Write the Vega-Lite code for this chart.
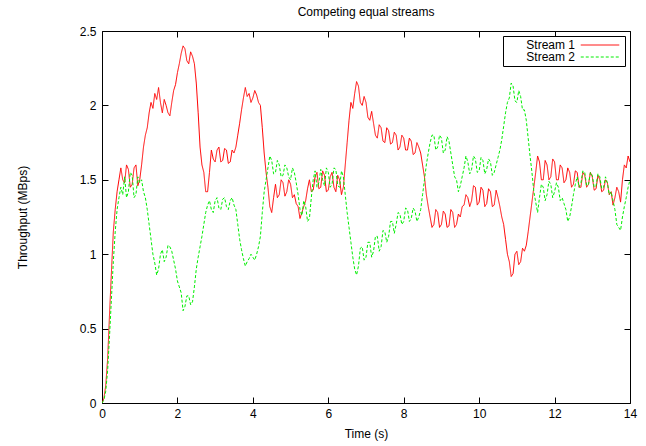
{
  "$schema": "https://vega.github.io/schema/vega-lite/v6.json",
  "width": 528,
  "height": 372,
  "autosize": {"type": "none"},
  "padding": {"left": 102, "top": 31, "right": 16, "bottom": 43},
  "background": "white",
  "config": {
    "font": "Liberation Sans",
    "view": {"stroke": "black", "strokeWidth": 1},
    "axis": {"grid": false, "domain": false, "labelFont": "Liberation Sans", "titleFont": "Liberation Sans", "labelFontSize": 12, "titleFontSize": 12, "titleFontWeight": "normal", "labelColor": "#000", "titleColor": "#000", "tickColor": "#000", "tickSize": -6}
  },
  "title": {"text": "Competing equal streams", "fontSize": 12, "fontWeight": "normal", "font": "Liberation Sans", "color": "#000", "offset": 6},
  "data": {"values": [
{"t":0,"Stream 1":0,"Stream 2":0},{"t":0.05,"Stream 1":0.03,"Stream 2":0.02},{"t":0.1,"Stream 1":0.12,"Stream 2":0.08},{"t":0.15,"Stream 1":0.3,"Stream 2":0.22},
{"t":0.2,"Stream 1":0.6,"Stream 2":0.45},{"t":0.25,"Stream 1":0.88,"Stream 2":0.7},{"t":0.3,"Stream 1":1.15,"Stream 2":0.95},{"t":0.35,"Stream 1":1.3,"Stream 2":1.15},
{"t":0.4,"Stream 1":1.42,"Stream 2":1.3},{"t":0.45,"Stream 1":1.5,"Stream 2":1.38},{"t":0.5,"Stream 1":1.58,"Stream 2":1.45},{"t":0.55,"Stream 1":1.5,"Stream 2":1.4},
{"t":0.6,"Stream 1":1.48,"Stream 2":1.52},{"t":0.65,"Stream 1":1.6,"Stream 2":1.38},{"t":0.7,"Stream 1":1.57,"Stream 2":1.42},{"t":0.75,"Stream 1":1.45,"Stream 2":1.55},
{"t":0.8,"Stream 1":1.47,"Stream 2":1.53},{"t":0.85,"Stream 1":1.58,"Stream 2":1.38},{"t":0.9,"Stream 1":1.6,"Stream 2":1.4},{"t":0.95,"Stream 1":1.46,"Stream 2":1.52},
{"t":1.0,"Stream 1":1.5,"Stream 2":1.48},{"t":1.05,"Stream 1":1.6,"Stream 2":1.5},{"t":1.1,"Stream 1":1.72,"Stream 2":1.42},{"t":1.15,"Stream 1":1.8,"Stream 2":1.38},
{"t":1.2,"Stream 1":1.85,"Stream 2":1.3},{"t":1.25,"Stream 1":1.95,"Stream 2":1.2},{"t":1.3,"Stream 1":2.02,"Stream 2":1.1},{"t":1.35,"Stream 1":1.98,"Stream 2":1.0},
{"t":1.4,"Stream 1":2.08,"Stream 2":0.94},{"t":1.45,"Stream 1":2.04,"Stream 2":0.86},{"t":1.5,"Stream 1":2.12,"Stream 2":0.9},{"t":1.55,"Stream 1":2.02,"Stream 2":1.0},
{"t":1.6,"Stream 1":1.95,"Stream 2":1.03},{"t":1.65,"Stream 1":2.04,"Stream 2":0.95},{"t":1.7,"Stream 1":2.0,"Stream 2":0.98},{"t":1.75,"Stream 1":1.95,"Stream 2":1.06},
{"t":1.8,"Stream 1":1.93,"Stream 2":1.05},{"t":1.85,"Stream 1":2.02,"Stream 2":1.02},{"t":1.9,"Stream 1":2.1,"Stream 2":0.96},{"t":1.95,"Stream 1":2.14,"Stream 2":0.9},
{"t":2.0,"Stream 1":2.22,"Stream 2":0.82},{"t":2.05,"Stream 1":2.28,"Stream 2":0.78},{"t":2.1,"Stream 1":2.35,"Stream 2":0.74},{"t":2.15,"Stream 1":2.4,"Stream 2":0.62},
{"t":2.2,"Stream 1":2.38,"Stream 2":0.65},{"t":2.25,"Stream 1":2.3,"Stream 2":0.72},{"t":2.3,"Stream 1":2.28,"Stream 2":0.72},{"t":2.35,"Stream 1":2.36,"Stream 2":0.66},
{"t":2.4,"Stream 1":2.33,"Stream 2":0.68},{"t":2.45,"Stream 1":2.28,"Stream 2":0.78},{"t":2.5,"Stream 1":2.15,"Stream 2":0.9},{"t":2.55,"Stream 1":1.95,"Stream 2":0.98},
{"t":2.6,"Stream 1":1.72,"Stream 2":1.05},{"t":2.65,"Stream 1":1.6,"Stream 2":1.12},{"t":2.7,"Stream 1":1.55,"Stream 2":1.2},{"t":2.75,"Stream 1":1.42,"Stream 2":1.28},
{"t":2.8,"Stream 1":1.42,"Stream 2":1.33},{"t":2.85,"Stream 1":1.55,"Stream 2":1.36},{"t":2.9,"Stream 1":1.7,"Stream 2":1.3},{"t":2.95,"Stream 1":1.64,"Stream 2":1.28},
{"t":3.0,"Stream 1":1.62,"Stream 2":1.36},{"t":3.05,"Stream 1":1.7,"Stream 2":1.38},{"t":3.1,"Stream 1":1.72,"Stream 2":1.31},{"t":3.15,"Stream 1":1.62,"Stream 2":1.3},
{"t":3.2,"Stream 1":1.63,"Stream 2":1.37},{"t":3.25,"Stream 1":1.71,"Stream 2":1.38},{"t":3.3,"Stream 1":1.7,"Stream 2":1.32},{"t":3.35,"Stream 1":1.61,"Stream 2":1.3},
{"t":3.4,"Stream 1":1.62,"Stream 2":1.36},{"t":3.45,"Stream 1":1.7,"Stream 2":1.38},{"t":3.5,"Stream 1":1.68,"Stream 2":1.33},{"t":3.55,"Stream 1":1.72,"Stream 2":1.3},
{"t":3.6,"Stream 1":1.8,"Stream 2":1.2},{"t":3.65,"Stream 1":1.88,"Stream 2":1.1},{"t":3.7,"Stream 1":1.97,"Stream 2":1.03},{"t":3.75,"Stream 1":2.05,"Stream 2":0.97},
{"t":3.8,"Stream 1":2.12,"Stream 2":0.92},{"t":3.85,"Stream 1":2.06,"Stream 2":0.95},{"t":3.9,"Stream 1":2.08,"Stream 2":0.97},{"t":3.95,"Stream 1":2.02,"Stream 2":1.0},
{"t":4.0,"Stream 1":2.05,"Stream 2":0.98},{"t":4.05,"Stream 1":2.1,"Stream 2":0.96},{"t":4.1,"Stream 1":2.07,"Stream 2":1.0},{"t":4.15,"Stream 1":2.02,"Stream 2":1.05},
{"t":4.2,"Stream 1":2.0,"Stream 2":1.12},{"t":4.25,"Stream 1":1.85,"Stream 2":1.28},{"t":4.3,"Stream 1":1.68,"Stream 2":1.42},{"t":4.35,"Stream 1":1.55,"Stream 2":1.5},
{"t":4.4,"Stream 1":1.45,"Stream 2":1.58},{"t":4.45,"Stream 1":1.32,"Stream 2":1.66},{"t":4.5,"Stream 1":1.28,"Stream 2":1.63},{"t":4.55,"Stream 1":1.38,"Stream 2":1.54},
{"t":4.6,"Stream 1":1.47,"Stream 2":1.55},{"t":4.65,"Stream 1":1.38,"Stream 2":1.63},{"t":4.7,"Stream 1":1.4,"Stream 2":1.6},{"t":4.75,"Stream 1":1.5,"Stream 2":1.52},
{"t":4.8,"Stream 1":1.48,"Stream 2":1.53},{"t":4.85,"Stream 1":1.39,"Stream 2":1.6},{"t":4.9,"Stream 1":1.42,"Stream 2":1.58},{"t":4.95,"Stream 1":1.5,"Stream 2":1.52},
{"t":5.0,"Stream 1":1.47,"Stream 2":1.5},{"t":5.05,"Stream 1":1.38,"Stream 2":1.58},{"t":5.1,"Stream 1":1.4,"Stream 2":1.55},{"t":5.15,"Stream 1":1.34,"Stream 2":1.48},
{"t":5.2,"Stream 1":1.32,"Stream 2":1.4},{"t":5.25,"Stream 1":1.24,"Stream 2":1.3},{"t":5.3,"Stream 1":1.28,"Stream 2":1.26},{"t":5.35,"Stream 1":1.32,"Stream 2":1.36},
{"t":5.4,"Stream 1":1.36,"Stream 2":1.32},{"t":5.45,"Stream 1":1.44,"Stream 2":1.22},{"t":5.5,"Stream 1":1.5,"Stream 2":1.24},{"t":5.55,"Stream 1":1.42,"Stream 2":1.38},
{"t":5.6,"Stream 1":1.43,"Stream 2":1.5},{"t":5.65,"Stream 1":1.52,"Stream 2":1.56},{"t":5.7,"Stream 1":1.55,"Stream 2":1.45},{"t":5.75,"Stream 1":1.44,"Stream 2":1.48},
{"t":5.8,"Stream 1":1.45,"Stream 2":1.57},{"t":5.85,"Stream 1":1.56,"Stream 2":1.5},{"t":5.9,"Stream 1":1.53,"Stream 2":1.46},{"t":5.95,"Stream 1":1.42,"Stream 2":1.58},
{"t":6.0,"Stream 1":1.43,"Stream 2":1.55},{"t":6.05,"Stream 1":1.52,"Stream 2":1.45},{"t":6.1,"Stream 1":1.55,"Stream 2":1.47},{"t":6.15,"Stream 1":1.45,"Stream 2":1.58},
{"t":6.2,"Stream 1":1.42,"Stream 2":1.57},{"t":6.25,"Stream 1":1.53,"Stream 2":1.46},{"t":6.3,"Stream 1":1.5,"Stream 2":1.45},{"t":6.35,"Stream 1":1.4,"Stream 2":1.56},
{"t":6.4,"Stream 1":1.45,"Stream 2":1.52},{"t":6.45,"Stream 1":1.6,"Stream 2":1.4},{"t":6.5,"Stream 1":1.75,"Stream 2":1.28},{"t":6.55,"Stream 1":1.9,"Stream 2":1.18},
{"t":6.6,"Stream 1":2.02,"Stream 2":1.08},{"t":6.65,"Stream 1":1.98,"Stream 2":0.98},{"t":6.7,"Stream 1":2.08,"Stream 2":0.9},{"t":6.75,"Stream 1":2.16,"Stream 2":0.86},
{"t":6.8,"Stream 1":2.13,"Stream 2":0.92},{"t":6.85,"Stream 1":2.02,"Stream 2":1.04},{"t":6.9,"Stream 1":2.0,"Stream 2":1.05},{"t":6.95,"Stream 1":2.06,"Stream 2":0.96},
{"t":7.0,"Stream 1":2.02,"Stream 2":0.98},{"t":7.05,"Stream 1":1.92,"Stream 2":1.08},{"t":7.1,"Stream 1":1.9,"Stream 2":1.08},{"t":7.15,"Stream 1":1.96,"Stream 2":0.98},
{"t":7.2,"Stream 1":1.88,"Stream 2":1.02},{"t":7.25,"Stream 1":1.8,"Stream 2":1.12},{"t":7.3,"Stream 1":1.78,"Stream 2":1.12},{"t":7.35,"Stream 1":1.87,"Stream 2":1.02},
{"t":7.4,"Stream 1":1.85,"Stream 2":1.05},{"t":7.45,"Stream 1":1.76,"Stream 2":1.16},{"t":7.5,"Stream 1":1.75,"Stream 2":1.15},{"t":7.55,"Stream 1":1.85,"Stream 2":1.08},
{"t":7.6,"Stream 1":1.83,"Stream 2":1.12},{"t":7.65,"Stream 1":1.74,"Stream 2":1.22},{"t":7.7,"Stream 1":1.75,"Stream 2":1.22},{"t":7.75,"Stream 1":1.82,"Stream 2":1.14},
{"t":7.8,"Stream 1":1.8,"Stream 2":1.2},{"t":7.85,"Stream 1":1.7,"Stream 2":1.28},{"t":7.9,"Stream 1":1.72,"Stream 2":1.27},{"t":7.95,"Stream 1":1.8,"Stream 2":1.2},
{"t":8.0,"Stream 1":1.78,"Stream 2":1.22},{"t":8.05,"Stream 1":1.7,"Stream 2":1.31},{"t":8.1,"Stream 1":1.7,"Stream 2":1.3},{"t":8.15,"Stream 1":1.78,"Stream 2":1.22},
{"t":8.2,"Stream 1":1.76,"Stream 2":1.24},{"t":8.25,"Stream 1":1.67,"Stream 2":1.31},{"t":8.3,"Stream 1":1.68,"Stream 2":1.29},{"t":8.35,"Stream 1":1.75,"Stream 2":1.22},
{"t":8.4,"Stream 1":1.72,"Stream 2":1.25},{"t":8.45,"Stream 1":1.68,"Stream 2":1.3},{"t":8.5,"Stream 1":1.6,"Stream 2":1.4},{"t":8.55,"Stream 1":1.52,"Stream 2":1.5},
{"t":8.6,"Stream 1":1.4,"Stream 2":1.6},{"t":8.65,"Stream 1":1.32,"Stream 2":1.68},{"t":8.7,"Stream 1":1.25,"Stream 2":1.75},{"t":8.75,"Stream 1":1.18,"Stream 2":1.8},
{"t":8.8,"Stream 1":1.2,"Stream 2":1.8},{"t":8.85,"Stream 1":1.3,"Stream 2":1.7},{"t":8.9,"Stream 1":1.28,"Stream 2":1.72},{"t":8.95,"Stream 1":1.18,"Stream 2":1.8},
{"t":9.0,"Stream 1":1.2,"Stream 2":1.78},{"t":9.05,"Stream 1":1.29,"Stream 2":1.68},{"t":9.1,"Stream 1":1.27,"Stream 2":1.7},{"t":9.15,"Stream 1":1.18,"Stream 2":1.79},
{"t":9.2,"Stream 1":1.19,"Stream 2":1.76},{"t":9.25,"Stream 1":1.3,"Stream 2":1.68},{"t":9.3,"Stream 1":1.28,"Stream 2":1.6},{"t":9.35,"Stream 1":1.18,"Stream 2":1.52},
{"t":9.4,"Stream 1":1.2,"Stream 2":1.5},{"t":9.45,"Stream 1":1.27,"Stream 2":1.42},{"t":9.5,"Stream 1":1.25,"Stream 2":1.46},{"t":9.55,"Stream 1":1.32,"Stream 2":1.52},
{"t":9.6,"Stream 1":1.33,"Stream 2":1.58},{"t":9.65,"Stream 1":1.4,"Stream 2":1.66},{"t":9.7,"Stream 1":1.38,"Stream 2":1.62},{"t":9.75,"Stream 1":1.32,"Stream 2":1.54},
{"t":9.8,"Stream 1":1.36,"Stream 2":1.57},{"t":9.85,"Stream 1":1.46,"Stream 2":1.66},{"t":9.9,"Stream 1":1.45,"Stream 2":1.64},{"t":9.95,"Stream 1":1.33,"Stream 2":1.55},
{"t":10.0,"Stream 1":1.35,"Stream 2":1.56},{"t":10.05,"Stream 1":1.45,"Stream 2":1.65},{"t":10.1,"Stream 1":1.43,"Stream 2":1.63},{"t":10.15,"Stream 1":1.32,"Stream 2":1.54},
{"t":10.2,"Stream 1":1.34,"Stream 2":1.57},{"t":10.25,"Stream 1":1.44,"Stream 2":1.64},{"t":10.3,"Stream 1":1.42,"Stream 2":1.62},{"t":10.35,"Stream 1":1.32,"Stream 2":1.53},
{"t":10.4,"Stream 1":1.33,"Stream 2":1.55},{"t":10.45,"Stream 1":1.43,"Stream 2":1.6},{"t":10.5,"Stream 1":1.38,"Stream 2":1.65},{"t":10.55,"Stream 1":1.32,"Stream 2":1.7},
{"t":10.6,"Stream 1":1.25,"Stream 2":1.77},{"t":10.65,"Stream 1":1.2,"Stream 2":1.86},{"t":10.7,"Stream 1":1.1,"Stream 2":1.95},{"t":10.75,"Stream 1":1.0,"Stream 2":2.02},
{"t":10.8,"Stream 1":0.95,"Stream 2":2.05},{"t":10.85,"Stream 1":0.85,"Stream 2":2.15},{"t":10.9,"Stream 1":0.87,"Stream 2":2.13},{"t":10.95,"Stream 1":1.0,"Stream 2":2.03},
{"t":11.0,"Stream 1":1.02,"Stream 2":2.02},{"t":11.05,"Stream 1":0.93,"Stream 2":2.1},{"t":11.1,"Stream 1":0.95,"Stream 2":2.06},{"t":11.15,"Stream 1":1.04,"Stream 2":1.97},
{"t":11.2,"Stream 1":1.02,"Stream 2":1.97},{"t":11.25,"Stream 1":1.06,"Stream 2":1.9},{"t":11.3,"Stream 1":1.15,"Stream 2":1.78},{"t":11.35,"Stream 1":1.25,"Stream 2":1.66},
{"t":11.4,"Stream 1":1.35,"Stream 2":1.55},{"t":11.45,"Stream 1":1.45,"Stream 2":1.42},{"t":11.5,"Stream 1":1.55,"Stream 2":1.35},{"t":11.55,"Stream 1":1.66,"Stream 2":1.28},
{"t":11.6,"Stream 1":1.62,"Stream 2":1.38},{"t":11.65,"Stream 1":1.5,"Stream 2":1.47},{"t":11.7,"Stream 1":1.5,"Stream 2":1.45},{"t":11.75,"Stream 1":1.63,"Stream 2":1.36},
{"t":11.8,"Stream 1":1.6,"Stream 2":1.4},{"t":11.85,"Stream 1":1.5,"Stream 2":1.49},{"t":11.9,"Stream 1":1.52,"Stream 2":1.47},{"t":11.95,"Stream 1":1.64,"Stream 2":1.38},
{"t":12.0,"Stream 1":1.62,"Stream 2":1.42},{"t":12.05,"Stream 1":1.5,"Stream 2":1.48},{"t":12.1,"Stream 1":1.5,"Stream 2":1.45},{"t":12.15,"Stream 1":1.6,"Stream 2":1.36},
{"t":12.2,"Stream 1":1.58,"Stream 2":1.38},{"t":12.25,"Stream 1":1.48,"Stream 2":1.34},{"t":12.3,"Stream 1":1.5,"Stream 2":1.3},{"t":12.35,"Stream 1":1.58,"Stream 2":1.22},
{"t":12.4,"Stream 1":1.55,"Stream 2":1.25},{"t":12.45,"Stream 1":1.45,"Stream 2":1.32},{"t":12.5,"Stream 1":1.47,"Stream 2":1.4},{"t":12.55,"Stream 1":1.56,"Stream 2":1.47},
{"t":12.6,"Stream 1":1.55,"Stream 2":1.52},{"t":12.65,"Stream 1":1.45,"Stream 2":1.45},{"t":12.7,"Stream 1":1.45,"Stream 2":1.48},{"t":12.75,"Stream 1":1.55,"Stream 2":1.56},
{"t":12.8,"Stream 1":1.53,"Stream 2":1.55},{"t":12.85,"Stream 1":1.45,"Stream 2":1.46},{"t":12.9,"Stream 1":1.47,"Stream 2":1.47},{"t":12.95,"Stream 1":1.55,"Stream 2":1.55},
{"t":13.0,"Stream 1":1.52,"Stream 2":1.53},{"t":13.05,"Stream 1":1.43,"Stream 2":1.45},{"t":13.1,"Stream 1":1.44,"Stream 2":1.46},{"t":13.15,"Stream 1":1.53,"Stream 2":1.54},
{"t":13.2,"Stream 1":1.5,"Stream 2":1.52},{"t":13.25,"Stream 1":1.42,"Stream 2":1.44},{"t":13.3,"Stream 1":1.43,"Stream 2":1.45},{"t":13.35,"Stream 1":1.5,"Stream 2":1.52},
{"t":13.4,"Stream 1":1.48,"Stream 2":1.48},{"t":13.45,"Stream 1":1.4,"Stream 2":1.4},{"t":13.5,"Stream 1":1.42,"Stream 2":1.42},{"t":13.55,"Stream 1":1.33,"Stream 2":1.36},
{"t":13.6,"Stream 1":1.38,"Stream 2":1.3},{"t":13.65,"Stream 1":1.45,"Stream 2":1.2},{"t":13.7,"Stream 1":1.42,"Stream 2":1.18},{"t":13.75,"Stream 1":1.35,"Stream 2":1.16},
{"t":13.8,"Stream 1":1.5,"Stream 2":1.25},{"t":13.85,"Stream 1":1.6,"Stream 2":1.32},{"t":13.9,"Stream 1":1.58,"Stream 2":1.38},{"t":13.95,"Stream 1":1.66,"Stream 2":1.45},
{"t":14.0,"Stream 1":1.62,"Stream 2":1.5}
  ]},
  "transform": [{"fold": ["Stream 1", "Stream 2"], "as": ["series", "value"]}],
  "resolve": {"axis": {"x": "independent", "y": "independent"}},
  "layer": [
    {
      "mark": {"type": "line", "strokeWidth": 1, "clip": true},
      "encoding": {
        "x": {"field": "t", "type": "quantitative", "scale": {"domain": [0, 14], "nice": false, "zero": false},
              "axis": {"orient": "bottom", "values": [0,2,4,6,8,10,12,14], "title": "Time (s)", "labelPadding": 11, "titlePadding": 9, "labelFlush": false}},
        "y": {"field": "value", "type": "quantitative", "scale": {"domain": [0, 2.5], "nice": false},
              "axis": {"orient": "left", "values": [0,0.5,1,1.5,2,2.5], "format": "~g", "title": "Throughput (MBps)", "labelPadding": 12, "titlePadding": 50, "labelFlush": false}},
        "color": {"field": "series", "type": "nominal",
                  "scale": {"domain": ["Stream 1", "Stream 2"], "range": ["#ff0000", "#00ee00"]},
                  "legend": {"title": null, "orient": "top-right", "offset": 5, "strokeColor": "#000", "fillColor": "white", "padding": 3,
                             "symbolType": "M-3.5,0H3.5", "symbolSize": 121, "symbolStrokeWidth": 1, "labelFontSize": 12, "labelFont": "Liberation Sans", "labelColor": "#000",
                             "symbolOffset": 88, "labelOffset": -31, "labelAlign": "right", "rowPadding": 0, "cornerRadius": 0}},
        "strokeDash": {"field": "series", "type": "nominal",
                       "scale": {"domain": ["Stream 1", "Stream 2"], "range": [[1, 0], [3, 2]]},
                       "legend": {"title": null, "orient": "top-right", "offset": 5, "strokeColor": "#000", "fillColor": "white", "padding": 3,
                             "symbolType": "M-3.5,0H3.5", "symbolSize": 121, "symbolStrokeWidth": 1, "labelFontSize": 12, "labelFont": "Liberation Sans", "labelColor": "#000",
                             "symbolOffset": 88, "labelOffset": -31, "labelAlign": "right", "rowPadding": 0, "cornerRadius": 0}}
      }
    },
    {
      "mark": {"type": "rule", "opacity": 0},
      "encoding": {
        "x": {"field": "t", "type": "quantitative", "axis": {"orient": "top", "values": [0,2,4,6,8,10,12,14], "labels": false, "title": null, "minExtent": 0}},
        "y": {"field": "value", "type": "quantitative", "axis": {"orient": "right", "values": [0,0.5,1,1.5,2,2.5], "labels": false, "title": null, "minExtent": 0}}
      }
    }
  ]
}
